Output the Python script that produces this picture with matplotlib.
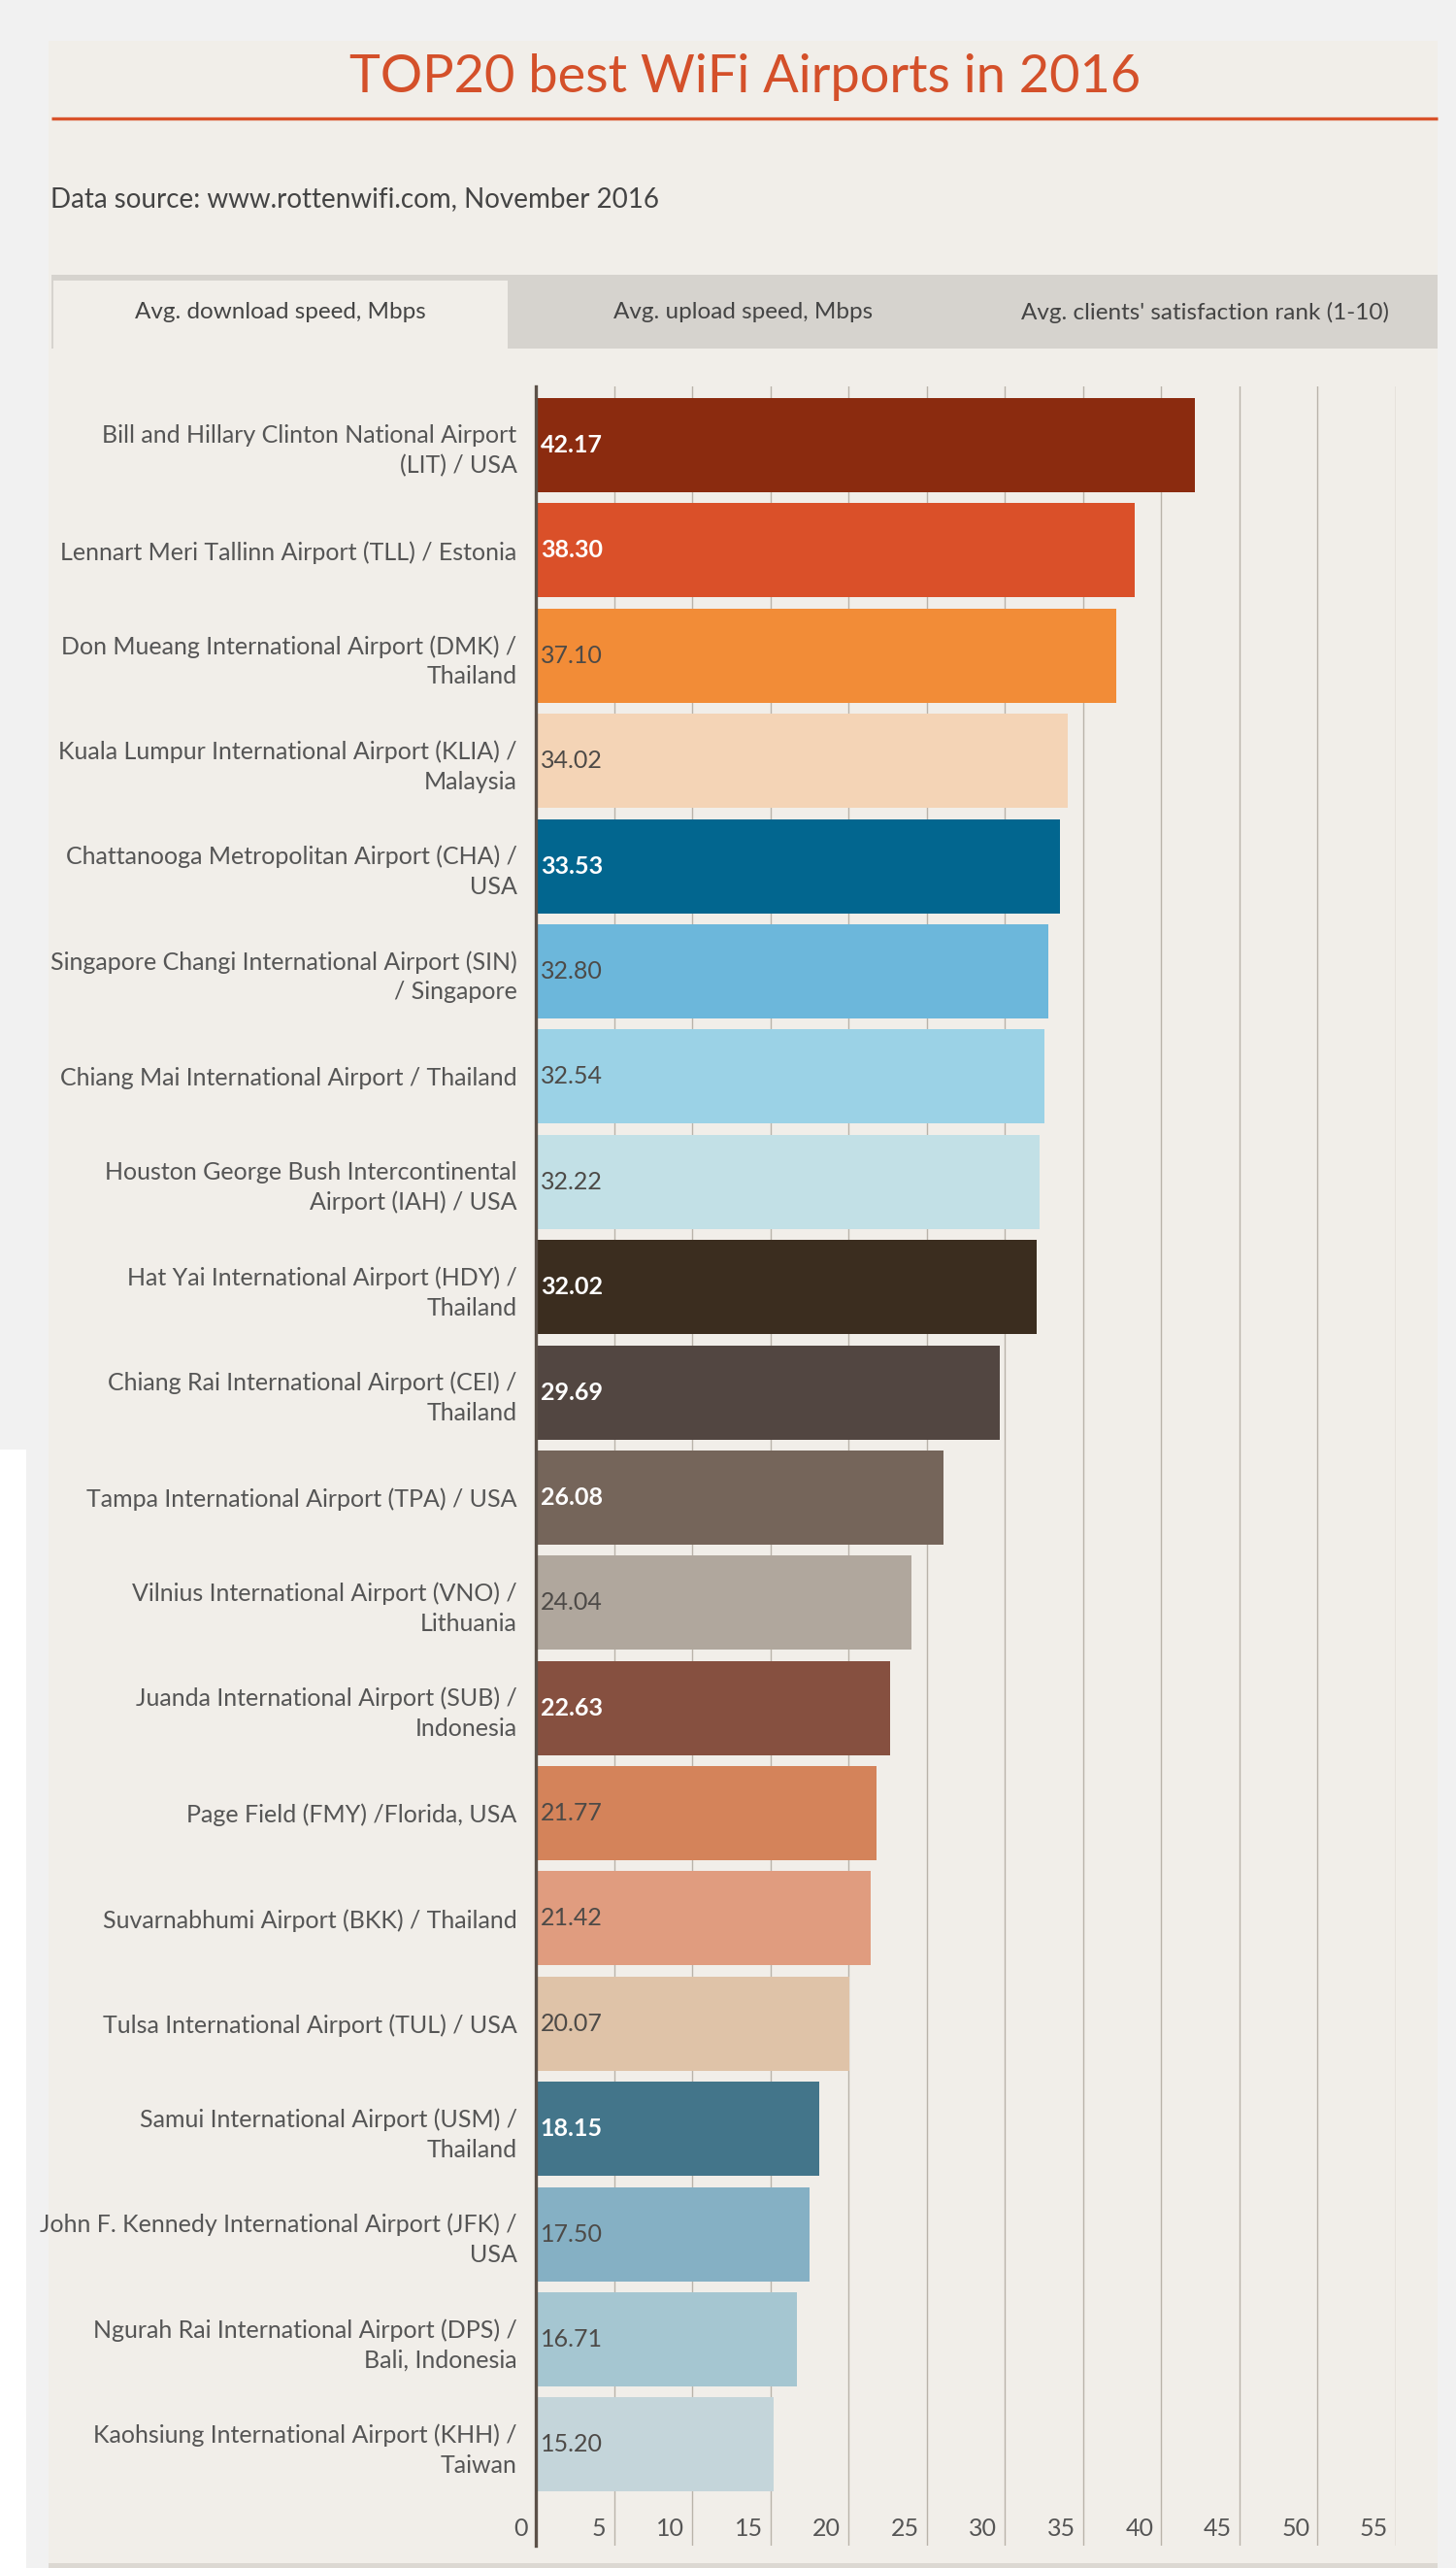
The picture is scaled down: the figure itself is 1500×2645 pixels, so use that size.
import matplotlib
matplotlib.use("Agg")
import matplotlib.pyplot as plt
from matplotlib.patches import Rectangle
from matplotlib.transforms import blended_transform_factory
from matplotlib import font_manager

airports = [
    "Bill and Hillary Clinton National Airport\n(LIT) / USA",
    "Lennart Meri Tallinn Airport (TLL) / Estonia",
    "Don Mueang International Airport (DMK) /\nThailand",
    "Kuala Lumpur International Airport (KLIA) /\nMalaysia",
    "Chattanooga Metropolitan Airport (CHA) /\nUSA",
    "Singapore Changi International Airport (SIN)\n/ Singapore",
    "Chiang Mai International Airport / Thailand",
    "Houston George Bush Intercontinental\nAirport (IAH) / USA",
    "Hat Yai International Airport (HDY) /\nThailand",
    "Chiang Rai International Airport (CEI) /\nThailand",
    "Tampa International Airport (TPA) / USA",
    "Vilnius International Airport (VNO) /\nLithuania",
    "Juanda International Airport (SUB) /\nIndonesia",
    "Page Field (FMY) /Florida, USA",
    "Suvarnabhumi Airport (BKK) / Thailand",
    "Tulsa International Airport (TUL) / USA",
    "Samui International Airport (USM) /\nThailand",
    "John F. Kennedy International Airport (JFK) /\nUSA",
    "Ngurah Rai International Airport (DPS) /\nBali, Indonesia",
    "Kaohsiung International Airport (KHH) /\nTaiwan",
]
download_mbps = [42.17, 38.30, 37.10, 34.02, 33.53, 32.80, 32.54, 32.22, 32.02, 29.69,
                 26.08, 24.04, 22.63, 21.77, 21.42, 20.07, 18.15, 17.50, 16.71, 15.20]
bar_colors = ["#8b2b0f", "#da5029", "#f28c37", "#f4d4b6", "#02668f", "#6cb7db", "#9bd2e6",
              "#c2e0e6", "#3b2d1f", "#524641", "#75655a", "#b0a79d", "#865040", "#d4835a",
              "#e09c7f", "#dfc3a8", "#43758a", "#85b0c4", "#a5c6d1", "#c4d5da"]
dark_bar = [True, True, False, False, True, False, False, False, True, True,
            True, False, True, False, False, False, True, False, False, False]
tab_labels = ["Avg. download speed, Mbps", "Avg. upload speed, Mbps",
              "Avg. clients' satisfaction rank (1-10)"]
x_ticks = list(range(0, 60, 5))

installed = {f.name for f in font_manager.fontManager.ttflist}
body_font = "Lato" if "Lato" in installed else "Open Sans"
plt.rcParams["font.family"] = [body_font, "DejaVu Sans"]

W, H = 1500, 2645
fig = plt.figure(figsize=(W / 100, H / 100), dpi=100, facecolor="#f1f1f1")

# page background / frame drawn in pixel coordinates
bg = fig.add_axes([0, 0, 1, 1])
bg.set_xlim(0, W)
bg.set_ylim(H, 0)
bg.axis("off")
bg.add_patch(Rectangle((0, 1493), 27, H - 1493, color="white", lw=0))
bg.add_patch(Rectangle((50, 42), 1431, 2600, color="#f1eee9", lw=0))
bg.add_patch(Rectangle((50, 2640), 1431, 5, color="#dcd8d2", lw=0))
bg.text(768, 80, "TOP20 best WiFi Airports in 2016", ha="center", va="center",
        fontsize=39, color="#d4502a")
bg.plot([53, 1481], [122, 122], color="#d9532b", lw=2.4, solid_capstyle="butt")
bg.text(52, 205, "Data source: www.rottenwifi.com, November 2016", ha="left", va="center",
        fontsize=20, color="#444444")
bg.add_patch(Rectangle((53, 283), 1428, 76, color="#d6d3ce", lw=0))
bg.add_patch(Rectangle((55, 289), 468, 70, color="#f1eee9", lw=0))
for cx, lab in zip([289, 766, 1241], tab_labels):
    bg.text(cx, 322, lab, ha="center", va="center", fontsize=17.5, color="#444444")

# bar chart
ax = fig.add_axes([552 / W, 1 - 2622 / H, (1438 - 552) / W, (2622 - 398) / H])
ax.set_facecolor("none")
pos = list(range(len(download_mbps)))
ax.barh(pos, download_mbps, height=0.895, color=bar_colors, zorder=2)
ax.set_xlim(0, 55)
ax.set_ylim(19.96, -0.558)
ax.set_xticks(x_ticks)
ax.grid(axis="x", color="#b9b3aa", lw=1)
ax.set_axisbelow(True)
ax.tick_params(axis="x", length=0, labelbottom=False)
ax.set_yticks(pos)
ax.set_yticklabels(airports, fontsize=18, color="#555555", linespacing=1.4)
ax.tick_params(axis="y", length=0, pad=14)
for s in ["top", "right", "bottom"]:
    ax.spines[s].set_visible(False)
ax.spines["left"].set_color("#5b5048")
ax.spines["left"].set_linewidth(2.4)
ax.spines["left"].set_zorder(3)

for i, v in enumerate(download_mbps):
    ax.text(0.3, i, f"{v:.2f}", ha="left", va="center", fontsize=18,
            color="white" if dark_bar[i] else "#4d4a47",
            weight="bold" if dark_bar[i] else "normal", zorder=4)

tr = blended_transform_factory(ax.transData, ax.transAxes)
for t in x_ticks:
    ax.text(t - 0.5, 0.008, str(t), transform=tr, ha="right", va="center",
            fontsize=18, color="#555555")

fig.savefig("out.png", dpi=100, facecolor=fig.get_facecolor())
